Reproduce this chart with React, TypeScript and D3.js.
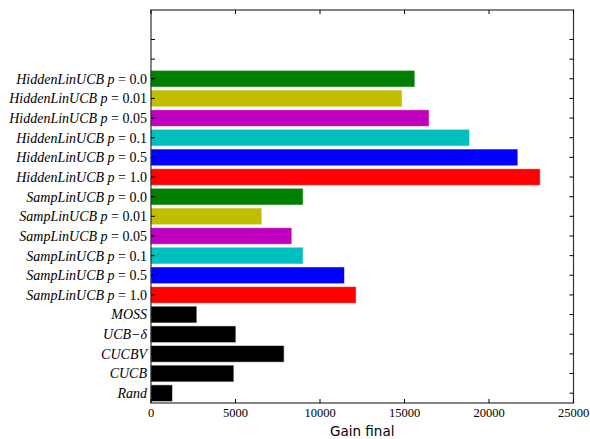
import React from "react";
import * as d3 from "d3";

// Bars listed from bottom to top
const methods = ["Rand", "CUCB", "CUCBV", "UCB−δ", "MOSS",
  "SampLinUCB", "SampLinUCB", "SampLinUCB", "SampLinUCB", "SampLinUCB", "SampLinUCB",
  "HiddenLinUCB", "HiddenLinUCB", "HiddenLinUCB", "HiddenLinUCB", "HiddenLinUCB", "HiddenLinUCB"];
const params = ["", "", "", "", "",
  "1.0", "0.5", "0.1", "0.05", "0.01", "0.0",
  "1.0", "0.5", "0.1", "0.05", "0.01", "0.0"];
const gains = [1243, 4870, 7850, 4990, 2680,
  12112, 11420, 8975, 8302, 6527, 8975,
  23003, 21675, 18816, 16430, 14834, 15580];
const barColors = ["#000000", "#000000", "#000000", "#000000", "#000000",
  "#ff0000", "#0000ff", "#00bfbf", "#bf00bf", "#bfbf00", "#008000",
  "#ff0000", "#0000ff", "#00bfbf", "#bf00bf", "#bfbf00", "#008000"];
const extraEmptyTicks = 2;
const xTicks = [0, 5000, 10000, 15000, 20000, 25000];
const xLabel = "Gain final";

const W = 590, H = 439;
const L = 151, R = 573.5, T = 10, B = 403;

export default function App() {
  const nTicks = methods.length + extraEmptyTicks;
  const x = d3.scaleLinear().domain([0, 25000]).range([L, R]);
  const y = d3.scaleLinear().domain([0, nTicks + 1]).range([B, T]);
  const tickPos = d3.range(nTicks).map((i) => i + 0.5);
  const serif = "'Liberation Serif', 'DejaVu Serif', serif";
  const frame = "#333";
  return (
    <svg width={W} height={H} style={{ position: "absolute", left: 0, top: 0 }}>
      <rect x={0} y={0} width={W} height={H} fill="#fff" />
      {gains.map((g, i) => (
        <rect key={i} x={x(0)} y={y(i + 0.9)} width={x(g) - x(0)} height={y(i + 0.1) - y(i + 0.9)}
          fill={barColors[i]} stroke={barColors[i]} strokeOpacity={0.45} strokeWidth={1} />
      ))}
      {/* frame */}
      <rect x={L} y={T} width={R - L} height={B - T} fill="none" stroke={frame} strokeWidth={1.2} />
      {/* y ticks */}
      {tickPos.map((t, i) => (
        <g key={i}>
          <line x1={L} x2={L + 4} y1={y(t)} y2={y(t)} stroke="#000" strokeWidth={1} />
          <line x1={R} x2={R - 4} y1={y(t)} y2={y(t)} stroke="#000" strokeWidth={1} />
        </g>
      ))}
      {/* x ticks */}
      {xTicks.map((v, i) => (
        <g key={i}>
          <line x1={x(v)} x2={x(v)} y1={B} y2={B - 4} stroke="#000" strokeWidth={1} />
          <line x1={x(v)} x2={x(v)} y1={T} y2={T + 4} stroke="#000" strokeWidth={1} />
          <text x={x(v)} y={B + 14} textAnchor="middle" fontFamily={serif} fontSize={12.5} fill="#000">
            {v}
          </text>
        </g>
      ))}
      {/* y labels */}
      {methods.map((m, i) => (
        <text key={i} x={L - 4} y={y(i + 0.5)} dy="0.35em" textAnchor="end" fontFamily={serif} fontSize={14} fill="#000">
          <tspan fontStyle="italic">{m}</tspan>
          {params[i] !== "" && (
            <>
              <tspan fontStyle="italic"> p</tspan>
              <tspan> = {params[i]}</tspan>
            </>
          )}
        </text>
      ))}
      <text x={(L + R) / 2} y={436} textAnchor="middle" fontFamily="'DejaVu Sans', sans-serif" fontSize={13.5} fill="#000">
        {xLabel}
      </text>
    </svg>
  );
}
